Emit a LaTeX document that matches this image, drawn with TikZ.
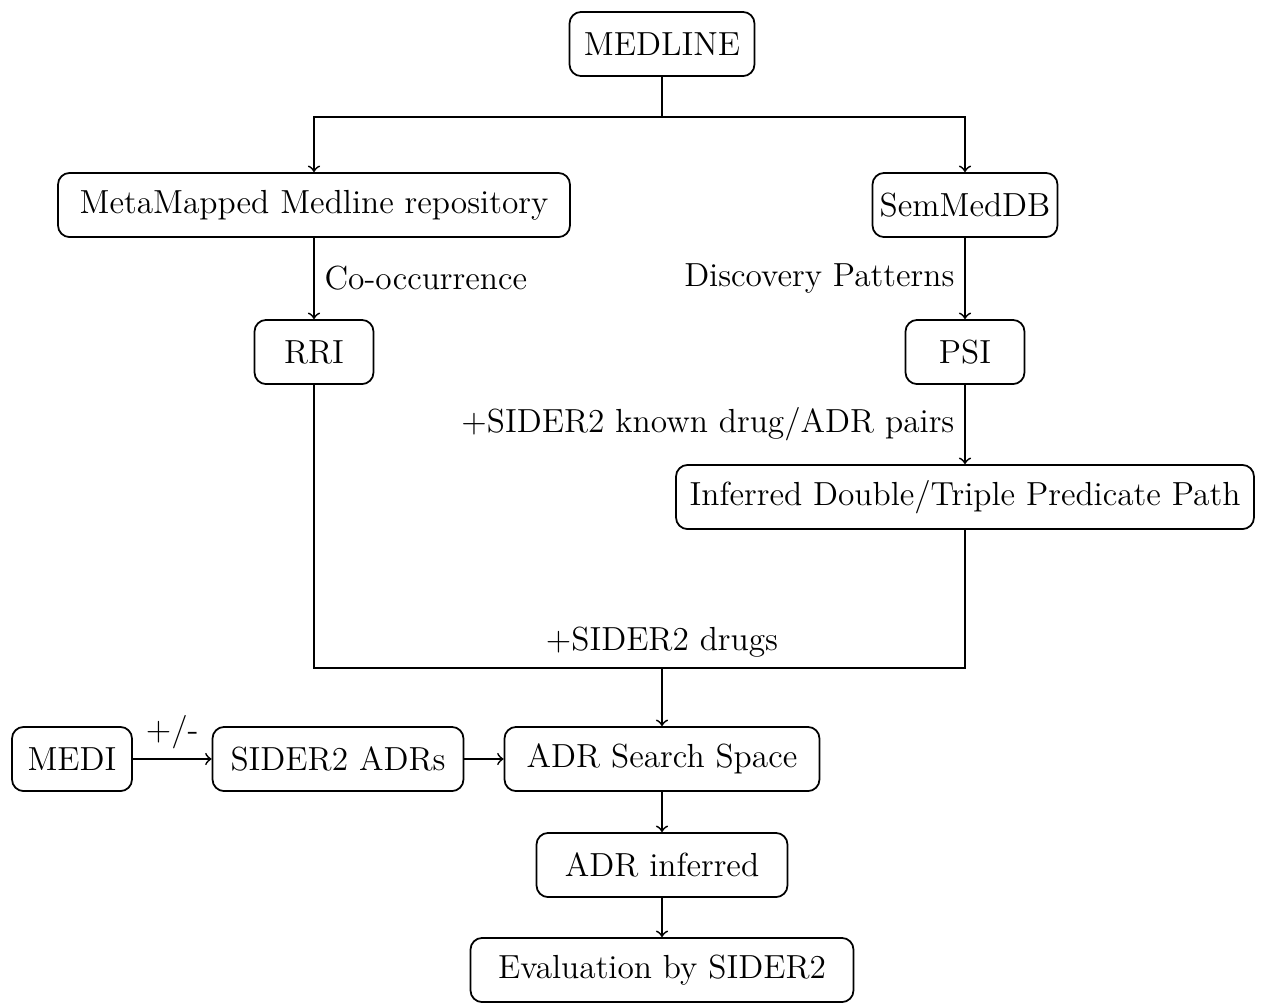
\documentclass[tikz,border=0pt]{standalone}
\usepackage{amsmath}
\usepackage{amssymb}
\usepackage{tikz}
\usetikzlibrary{arrows,positioning}

\tikzset{
  block/.style={shape=rectangle,draw,rounded corners=0.14cm,line width=0.6pt,
    minimum height=0.77cm,inner xsep=0.08cm},
  flow/.style={->,line width=0.6pt}
}

\begin{document}
\begin{tikzpicture}[>=to,auto,node distance=2cm,every node/.style={font=\fontsize{11.4}{13.5}\selectfont}]
  \useasboundingbox (0,0) rectangle (15.192,-12.024);

  \node (medline) [block,minimum width=2.22cm] at (7.944,-0.528) {MEDLINE};
  \node (metamap) [block,minimum width=6.144cm] at (3.768,-2.46) {MetaMapped Medline repository};
  \node (semmed) [block,minimum width=2.22cm] at (11.58,-2.46) {SemMedDB};
  \node (rri) [block,minimum width=1.428cm] [below of = metamap, node distance=1.764cm] {RRI};
  \node (psi) [block,minimum width=1.428cm] [below of = semmed, node distance=1.764cm] {PSI};
  \node (inferred) [block,minimum width=6.936cm] [below of = psi, node distance=1.74cm] {Inferred Double/Triple Predicate Path};

  \node (space) [block,minimum width=3.78cm] at (7.944,-9.108) {ADR Search Space};
  \node (adrs) [block,minimum width=3.012cm] [left of = space, node distance=3.888cm] {SIDER2 ADRs};
  \node (medi) [block,minimum width=1.44cm] [left of = adrs, node distance=3.192cm] {MEDI};
  \node (adrinf) [block,minimum width=3.012cm] [below of = space, node distance=1.272cm] {ADR inferred};
  \node (eval) [block,minimum width=4.596cm] [below of = adrinf, node distance=1.26cm] {Evaluation by SIDER2};

  \coordinate (fork) at (7.944,-1.404);
  \coordinate (join) at (7.944,-8.016);

  \draw[line width=0.6pt] (medline) -- (fork);
  \draw[flow] (fork) -| (metamap);
  \draw[flow] (fork) -| (semmed);
  \path[flow] (metamap) edge node {Co-occurrence} (rri);
  \path[flow] (semmed) edge node [swap] {Discovery Patterns} (psi);
  \path[flow] (psi) edge node [swap] {+SIDER2 known drug/ADR pairs} (inferred);

  \draw[line width=0.6pt] (rri) |- (join);
  \draw[line width=0.6pt] (inferred) |- (join);
  \draw[flow] (join) node [above] {+SIDER2 drugs} -- (space);

  \path[flow] (medi) edge node {+/-} (adrs);
  \path[flow] (adrs) edge (space);
  \path[flow] (space) edge (adrinf);
  \path[flow] (adrinf) edge (eval);
\end{tikzpicture}
\end{document}
